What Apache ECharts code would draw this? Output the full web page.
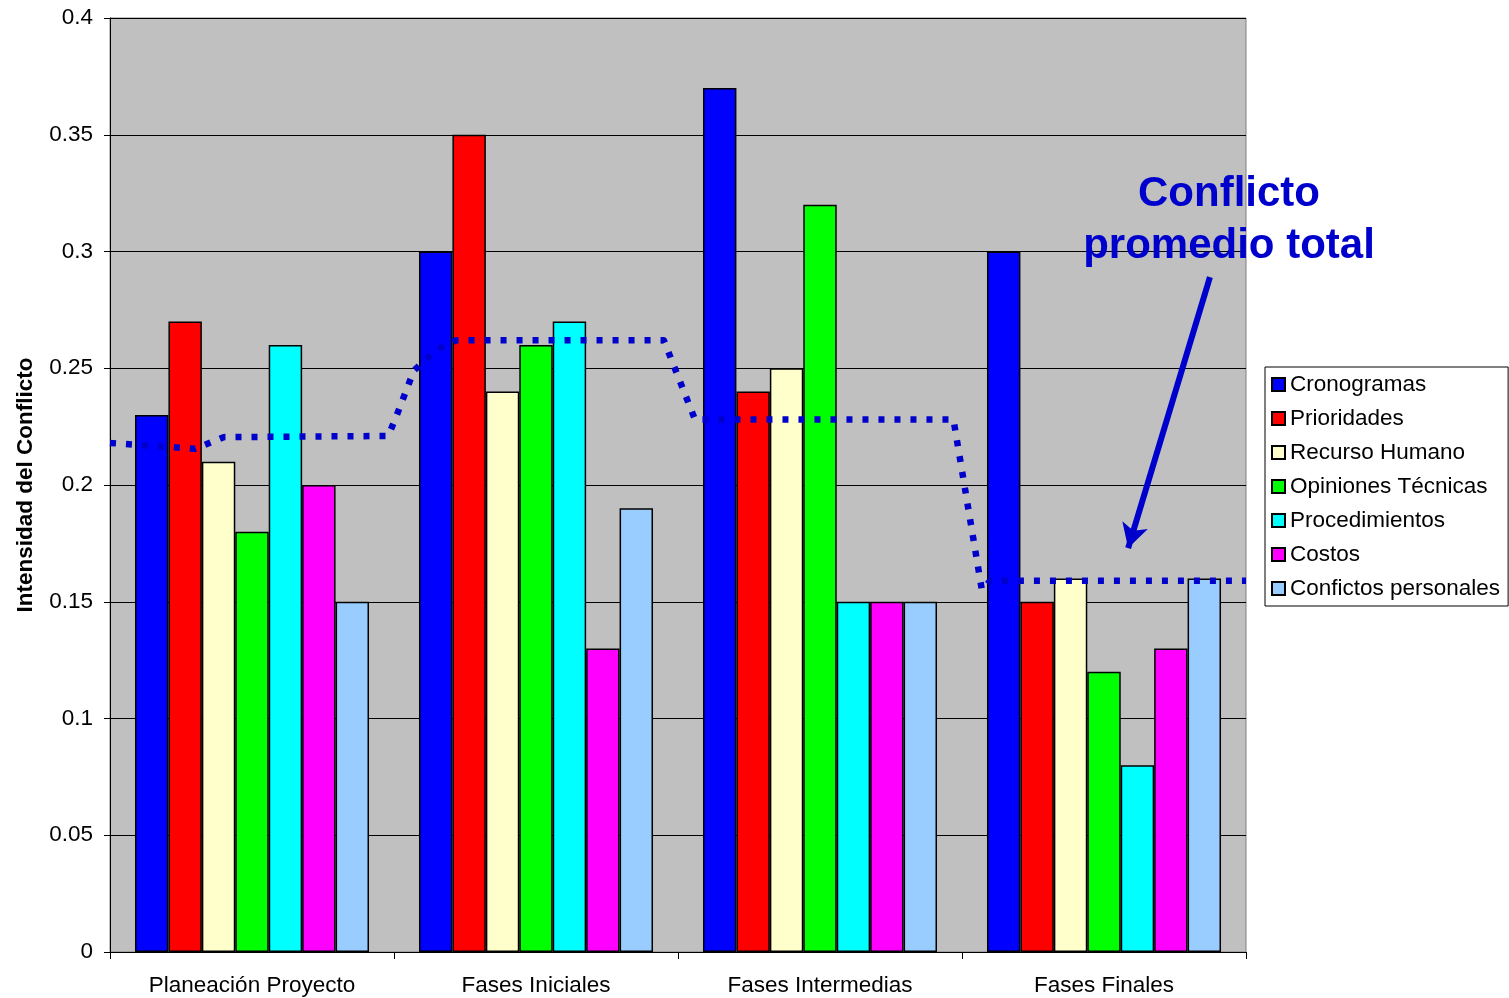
<!DOCTYPE html>
<html>
<head>
<meta charset="utf-8">
<script src="https://cdn.jsdelivr.net/npm/echarts@6/dist/echarts.min.js"></script>
<style>
  html, body { margin: 0; padding: 0; background: #fff; }
  #chart { width: 1509px; height: 998px; }
</style>
</head>
<body>
<div id="chart"></div>
<script>
// Phases of the project (categories)
const phases = ['Planeación Proyecto', 'Fases Iniciales', 'Fases Intermedias', 'Fases Finales'];

// Conflict intensity per source, one array per source
const cronogramas     = [0.23, 0.30, 0.37, 0.30];
const prioridades     = [0.27, 0.35, 0.24, 0.15];
const recursoHumano   = [0.21, 0.24, 0.25, 0.16];
const opinionesTec    = [0.18, 0.26, 0.32, 0.12];
const procedimientos  = [0.26, 0.27, 0.15, 0.08];
const costos          = [0.20, 0.13, 0.15, 0.13];
const confPersonales  = [0.15, 0.19, 0.15, 0.16];

const seriesNames = ['Cronogramas', 'Prioridades', 'Recurso Humano', 'Opiniones Técnicas',
                     'Procedimientos', 'Costos', 'Confictos personales'];
const seriesValues = [cronogramas, prioridades, recursoHumano, opinionesTec,
                      procedimientos, costos, confPersonales];
const seriesColors = ['#0000FF', '#FF0000', '#FFFFCC', '#00FF00', '#00FFFF', '#FF00FF', '#99CCFF'];

// Y axis tick range
const yMin = 0, yMax = 0.4, yStep = 0.05;

// Overall average conflict, drawn as a dotted step line across phases
// (x is in phase units: 0 = left edge of first phase, 4 = right edge of last)
const avgX = [0, 0.30, 0.40, 0.98, 1.01, 1.07, 1.15, 1.22, 1.95, 2.06, 2.97, 3.07, 3.10, 4.0];
const avgY = [0.218, 0.2155, 0.2205, 0.221, 0.230, 0.249, 0.258, 0.262, 0.262, 0.228, 0.228, 0.155, 0.159, 0.159];

// Annotation arrow, from the label down to the final-phase average
const arrowFrom = [3.873, 0.289];
const arrowTo   = [3.585, 0.173];

const FONT = 'Arial, "Liberation Sans", sans-serif';
const ACCENT = '#0000CC';

const chart = echarts.init(document.getElementById('chart'), null, { renderer: 'canvas' });

const barSeries = seriesNames.map((name, i) => ({
  name: name,
  type: 'bar',
  data: seriesValues[i],
  barGap: '0%',
  barCategoryGap: '17.6%',
  itemStyle: { color: seriesColors[i], borderColor: '#000', borderWidth: 1.5 },
  emphasis: { disabled: true }
}));

const avgSeries = {
  name: 'Conflicto promedio total',
  type: 'line',
  xAxisIndex: 1,
  data: avgX.map((x, i) => [x, avgY[i]]),
  symbol: 'none',
  lineStyle: { color: ACCENT, width: 6.5, type: [6, 10], cap: 'butt', join: 'round' },
  z: 5,
  markLine: {
    silent: true,
    symbol: ['none', 'arrow'],
    symbolSize: [20, 24],
    label: { show: false },
    lineStyle: { color: ACCENT, width: 6, type: 'solid' },
    data: [[{ coord: arrowFrom }, { coord: arrowTo }]]
  }
};

chart.setOption({
  animation: false,
  textStyle: { fontFamily: FONT },
  grid: {
    left: 110, right: 263, top: 18, bottom: 46,
    containLabel: false,
    outerBoundsMode: 'none',
    show: true, backgroundColor: '#C0C0C0', borderColor: '#808080', borderWidth: 1
  },
  title: {
    text: 'Conflicto\npromedio total',
    left: 1224, top: 163,
    textAlign: 'center',
    textStyle: { color: ACCENT, fontSize: 42, fontWeight: 'bold', fontFamily: FONT, lineHeight: 52 }
  },
  legend: {
    data: seriesNames,
    orient: 'vertical',
    left: 1265, top: 367,
    padding: [6, 8, 6, 6],
    itemGap: 11,
    itemWidth: 13, itemHeight: 13,
    icon: 'rect',
    backgroundColor: '#fff',
    borderColor: '#000', borderWidth: 1,
    textStyle: { fontSize: 22.5, lineHeight: 22, color: '#000', fontFamily: FONT, padding: [0, 0, 0, 0] },
    selectedMode: false
  },
  xAxis: [
    {
      type: 'category',
      data: phases,
      axisLine: { lineStyle: { color: '#000', width: 1 } },
      axisTick: { show: true, length: 7, lineStyle: { color: '#000' } },
      axisLabel: { fontSize: 22.5, color: '#000', margin: 22, fontFamily: FONT },
      splitLine: { show: false }
    },
    {
      type: 'value',
      min: 0, max: 4,
      show: false,
      splitLine: { show: false }
    }
  ],
  yAxis: {
    type: 'value',
    min: yMin, max: yMax, interval: yStep,
    name: 'Intensidad del Conflicto',
    nameLocation: 'middle',
    nameGap: 73,
    nameTextStyle: { fontSize: 22.5, fontWeight: 'bold', color: '#000', fontFamily: FONT },
    axisLine: { show: true, lineStyle: { color: '#000', width: 1 } },
    axisTick: { show: true, length: 6, lineStyle: { color: '#000' } },
    axisLabel: { fontSize: 22.5, color: '#000', margin: 17, fontFamily: FONT },
    splitLine: { show: true, lineStyle: { color: '#000', width: 1 } }
  },
  series: barSeries.concat([avgSeries])
});
</script>
</body>
</html>
